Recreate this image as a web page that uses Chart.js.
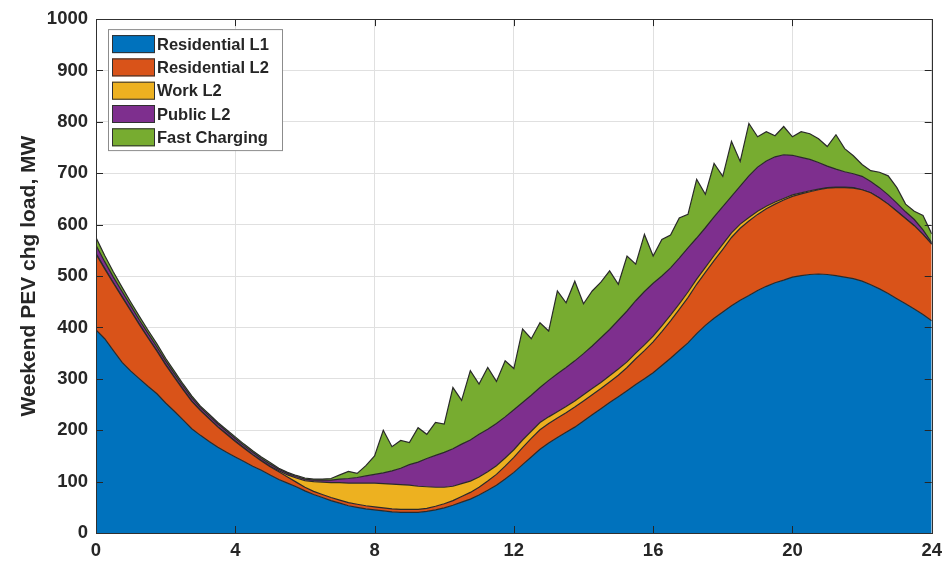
<!DOCTYPE html>
<html>
<head>
<meta charset="utf-8">
<script src="https://cdn.jsdelivr.net/npm/chart.js@4/dist/chart.umd.min.js"></script>
<style>
  html, body { margin: 0; padding: 0; background: #ffffff; }
  #wrap { width: 949px; height: 562px; position: relative; }
</style>
</head>
<body>
<div id="wrap"><canvas id="c" width="949" height="562"></canvas></div>
<script>
// Hour of day, 15-minute steps
const hours = [
  0, 0.25, 0.5, 0.75, 1, 1.25, 1.5, 1.75, 2, 2.25, 2.5, 2.75,
  3, 3.25, 3.5, 3.75, 4, 4.25, 4.5, 4.75, 5, 5.25, 5.5, 5.75,
  6, 6.25, 6.5, 6.75, 7, 7.25, 7.5, 7.75, 8, 8.25, 8.5, 8.75,
  9, 9.25, 9.5, 9.75, 10, 10.25, 10.5, 10.75, 11, 11.25, 11.5, 11.75,
  12, 12.25, 12.5, 12.75, 13, 13.25, 13.5, 13.75, 14, 14.25, 14.5, 14.75,
  15, 15.25, 15.5, 15.75, 16, 16.25, 16.5, 16.75, 17, 17.25, 17.5, 17.75,
  18, 18.25, 18.5, 18.75, 19, 19.25, 19.5, 19.75, 20, 20.25, 20.5, 20.75,
  21, 21.25, 21.5, 21.75, 22, 22.25, 22.5, 22.75, 23, 23.25, 23.5, 23.75,
  24
];

// Charging load by location type, MW
const residentialL1 = [
  395, 378, 355, 332, 315, 300, 285, 271, 253, 237, 220, 203,
  190, 178, 167, 157, 148, 139, 130, 122, 113, 104, 97, 90,
  82, 75, 69, 63, 58, 53, 50, 47, 45, 43, 41, 40,
  40, 40, 42, 45, 49, 54, 60, 66, 74, 83, 93, 105,
  118, 133, 148, 163, 175, 186, 196, 206, 218, 230, 242, 254,
  265, 277, 289, 300, 312, 326, 340, 355, 370, 388, 404, 418,
  430, 442, 453, 462, 472, 480, 487, 492, 498, 501, 503, 504,
  503, 501, 498, 495, 490, 483, 475, 466, 456, 446, 436, 425,
  413
];
const residentialL2 = [
  148, 136, 131, 127, 117, 105, 94, 83, 74, 66, 59, 53,
  48, 44, 39, 35, 30, 26, 22, 18, 16, 15, 12, 9,
  7, 6, 6, 6, 6, 6, 6, 6, 6, 6, 6, 6,
  6, 6, 6, 7, 8, 9, 11, 13, 15, 18, 21, 25,
  29, 33, 36, 38, 38, 38, 38, 39, 39, 39, 39, 40,
  42, 45, 50, 55, 60, 66, 73, 80, 88, 96, 103, 112,
  122, 133, 140, 145, 148, 151, 153, 156, 157, 159, 161, 164,
  168, 171, 174, 176, 178, 179, 177, 174, 170, 166, 162, 156,
  149
];
const workL2 = [
  1, 1, 1, 1, 1, 1, 1, 1, 1, 1, 1, 1,
  1, 1, 1, 1, 1, 1, 1, 1, 1, 2, 4, 8,
  13, 19, 24, 29, 34, 38, 41, 44, 46, 47, 48, 48,
  47, 45, 42, 37, 32, 28, 25, 22, 20, 18, 17, 16,
  15, 15, 14, 14, 13, 12, 12, 12, 12, 12, 12, 12,
  12, 11, 11, 11, 11, 11, 11, 11, 11, 10, 10, 10,
  10, 9, 8, 7, 6, 5, 4, 3, 3, 2, 2, 1,
  1, 1, 1, 1, 0, 0, 0, 0, 0, 0, 0, 0,
  0
];
const publicL2 = [
  16, 13, 11, 10, 9, 8, 8, 7, 7, 6, 6, 6,
  5, 5, 5, 5, 5, 4, 4, 4, 4, 3, 3, 3,
  3, 3, 4, 5, 7, 9, 11, 14, 17, 21, 26, 32,
  40, 47, 55, 62, 68, 73, 77, 80, 83, 83, 82, 80,
  78, 73, 70, 68, 71, 74, 76, 78, 80, 83, 87, 90,
  95, 99, 102, 104, 103, 97, 92, 89, 86, 80, 77, 75,
  73, 71, 74, 81, 86, 88, 88, 85, 77, 69, 61, 52,
  42, 35, 30, 27, 26, 22, 20, 18, 16, 13, 12, 9,
  3
];
const fastCharging = [
  15, 12, 10, 8, 7, 7, 6, 6, 5, 5, 4, 4,
  3, 3, 3, 3, 3, 3, 3, 3, 3, 2, 2, 2,
  2, 2, 2, 3, 8, 14, 8, 20, 36, 83, 47, 54,
  43, 67, 47, 64, 55, 119, 85, 135, 98, 120, 82, 109,
  80, 143, 110, 126, 96, 161, 126, 155, 97, 107, 108, 114,
  70, 107, 71, 111, 53, 71, 64, 78, 65, 114, 65, 104,
  59, 107, 48, 102, 59, 57, 41, 55, 36, 50, 50, 46,
  38, 67, 45, 35, 23, 21, 30, 37, 30, 15, 16, 28,
  17
];

const seriesNames = ['Residential L1', 'Residential L2', 'Work L2', 'Public L2', 'Fast Charging'];
const seriesColors = ['#0072BD', '#D95319', '#EDB120', '#7E2F8E', '#77AC30'];
const seriesValues = [residentialL1, residentialL2, workL2, publicL2, fastCharging];

const xTicks = [0, 4, 8, 12, 16, 20, 24];
const yTicks = [0, 100, 200, 300, 400, 500, 600, 700, 800, 900, 1000];

const INK = '#262626';
const FONT = "'Liberation Sans', Arial, Helvetica, sans-serif";

// Axes box with inward tick marks on all four sides
const axesBox = {
  id: 'axesBox',
  afterDatasetsDraw(chart) {
    const { ctx, chartArea: a, scales } = chart;
    ctx.save();
    ctx.strokeStyle = INK;
    ctx.lineWidth = 1;
    ctx.beginPath();
    const t = 7;
    xTicks.forEach(v => {
      const x = Math.round(scales.x.getPixelForValue(v)) + 0.5;
      ctx.moveTo(x, a.bottom); ctx.lineTo(x, a.bottom - t);
      ctx.moveTo(x, a.top); ctx.lineTo(x, a.top + t);
    });
    yTicks.forEach(v => {
      const y = Math.round(scales.y.getPixelForValue(v)) + 0.5;
      ctx.moveTo(a.left, y); ctx.lineTo(a.left + t, y);
      ctx.moveTo(a.right, y); ctx.lineTo(a.right - t, y);
    });
    ctx.stroke();
    ctx.strokeStyle = '#303030';
    ctx.strokeRect(Math.round(a.left) + 0.5, Math.round(a.top) + 0.5,
      Math.round(a.right - a.left), Math.round(a.bottom - a.top));
    ctx.restore();
  }
};

// Legend box in the upper-left corner of the plot
const insetLegend = {
  id: 'insetLegend',
  afterDraw(chart) {
    const { ctx, chartArea: a } = chart;
    const bx = a.left + 12, by = a.top + 10, bw = 174, bh = 121;
    ctx.save();
    ctx.fillStyle = '#ffffff';
    ctx.fillRect(bx, by, bw, bh);
    ctx.strokeStyle = '#8c8c8c';
    ctx.lineWidth = 1;
    ctx.strokeRect(bx + 0.5, by + 0.5, bw, bh);
    ctx.font = 'bold 16.5px ' + FONT;
    ctx.textBaseline = 'middle';
    chart.data.datasets.forEach((ds, i) => {
      const cy = by + 15 + i * 23.3;
      ctx.fillStyle = ds.backgroundColor;
      ctx.fillRect(bx + 4, cy - 9, 43, 18);
      ctx.strokeStyle = '#303030';
      ctx.strokeRect(bx + 4.5, cy - 8.5, 42, 17);
      ctx.fillStyle = INK;
      ctx.fillText(ds.label, bx + 49, cy + 1);
    });
    ctx.restore();
  }
};

const datasets = seriesNames.map((name, i) => ({
  label: name,
  data: hours.map((h, k) => ({ x: h, y: seriesValues[i][k] })),
  backgroundColor: seriesColors[i],
  borderColor: '#2a2a2a',
  borderWidth: 1.2,
  pointRadius: 0,
  tension: 0,
  fill: i === 0 ? 'origin' : '-1'
}));

new Chart(document.getElementById('c'), {
  type: 'line',
  data: { datasets },
  options: {
    responsive: false,
    animation: false,
    events: [],
    layout: { padding: { top: 17, right: 17, left: 0, bottom: 0 } },
    plugins: { legend: { display: false }, tooltip: { enabled: false } },
    scales: {
      x: {
        type: 'linear',
        min: 0, max: 24,
        afterFit(s) { s.height = 29; },
        afterBuildTicks(s) { s.ticks = xTicks.map(v => ({ value: v })); },
        grid: { color: '#e0e0e0', lineWidth: 1, drawTicks: false },
        border: { display: false },
        ticks: {
          color: INK, padding: 7,
          font: { family: FONT, size: 18.5, weight: 'bold' },
          callback: v => String(v)
        }
      },
      y: {
        stacked: true,
        min: 0, max: 1000,
        afterFit(s) { s.width = 96; },
        afterBuildTicks(s) { s.ticks = yTicks.map(v => ({ value: v })); },
        grid: { color: '#e0e0e0', lineWidth: 1, drawTicks: false },
        border: { display: false },
        ticks: {
          color: INK, padding: 8,
          font: { family: FONT, size: 18.5, weight: 'bold' },
          callback: v => String(v)
        },
        title: {
          display: true,
          text: 'Weekend PEV chg load, MW',
          color: INK,
          padding: { top: 17, bottom: 0 },
          font: { family: FONT, size: 21, weight: 'bold' }
        }
      }
    }
  },
  plugins: [axesBox, insetLegend]
});
</script>
</body>
</html>
